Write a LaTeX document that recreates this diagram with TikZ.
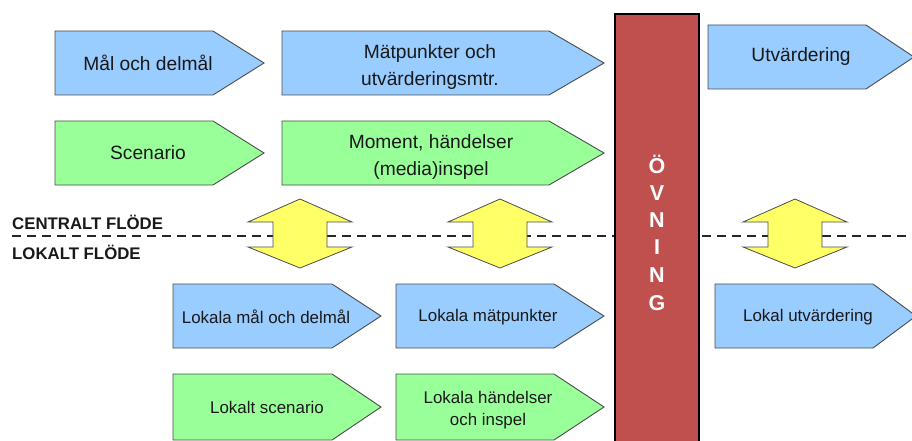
\documentclass[tikz,border=0pt]{standalone}
\usepackage{fontspec}
\setmainfont{Liberation Sans}
\definecolor{pblue}{HTML}{99CCFF}
\definecolor{pgreen}{HTML}{99FF99}
\definecolor{pyellow}{HTML}{FFFF66}
\definecolor{pred}{HTML}{C0504D}
\newcommand\hplate[6]{%
  \filldraw[plate,fill=#6] (#1,#2) -- (#3,#2) -- (#4,{(#2+#5)/2}) -- (#3,#5) -- (#1,#5) -- cycle;}
\newcommand\dblarrow[1]{%
  \filldraw[yarrow] (#1,199) -- ({#1+52},222) -- ({#1+27},222) -- ({#1+27},247) -- ({#1+52},247)
    -- (#1,268) -- ({#1-52},247) -- ({#1-27},247) -- ({#1-27},222) -- ({#1-52},222) -- cycle;}
\begin{document}
\begin{tikzpicture}[x=1pt,y=-1pt,
  plate/.style={draw=black!70, line width=0.9pt},
  yarrow/.style={draw=black!70, line width=0.8pt, fill=pyellow},
  biglbl/.style={font=\fontsize{19.2}{27.5}\selectfont, align=center, inner sep=0pt, text=black!90},
  smalllbl/.style={font=\fontsize{16.9}{21.5}\selectfont, align=center, inner sep=0pt, text=black!90},
  flowlbl/.style={font=\fontsize{16.8}{20}\selectfont\bfseries, anchor=west, inner sep=0pt, text=black!90},
  ovlbl/.style={font=\fontsize{21.5}{24}\selectfont\bfseries, anchor=base, inner sep=0pt, text=white},
  flowline/.style={draw=black!85, line width=1.8pt, dash pattern=on 9pt off 6pt}]
\useasboundingbox (0,0) rectangle (912,441);
% dashed flow line
\coordinate (dl) at (12,236);
\coordinate (dr) at (912,236);
\draw[flowline] (dl) -- (dr);
% top row
\hplate{55}{31}{213}{264}{95}{pblue}
\node[biglbl] (mal) at (148,63) {Mål och delmål};
\hplate{282}{31}{549}{604}{95}{pblue}
\node[biglbl] (matp) at (430,67) {Mätpunkter och\\utvärderingsmtr.};
\hplate{708}{25}{866}{914}{89}{pblue}
\node[biglbl] (utv) at (801,57) {Utvärdering};
% second row
\hplate{55}{121}{213}{264}{185}{pgreen}
\node[biglbl] (scen) at (148,153) {Scenario};
\hplate{282}{121}{549}{604}{185}{pgreen}
\node[biglbl] (mom) at (431,157) {Moment, händelser\\(media)inspel};
% flow labels
\node[flowlbl] (central) at (12,222) {CENTRALT FLÖDE};
\node[flowlbl] (lokalt) at (12,252) {LOKALT FLÖDE};
% double arrows
\dblarrow{300}
\dblarrow{500}
\dblarrow{795}
% lower rows
\hplate{173}{284}{332}{381}{348}{pblue}
\node[smalllbl] (lmal) at (266,317) {Lokala mål och delmål};
\hplate{396}{284}{554}{604}{348}{pblue}
\node[smalllbl] (lmatp) at (488,317) {Lokala mätpunkter};
\hplate{715}{284}{873}{916}{348}{pblue}
\node[smalllbl] (lutv) at (808,317) {Lokal utvärdering};
\hplate{173}{374}{332}{381}{440}{pgreen}
\node[smalllbl] (lscen) at (267,407) {Lokalt scenario};
\hplate{396}{374}{554}{604}{440}{pgreen}
\node[smalllbl] (lhand) at (488,410) {Lokala händelser\\och inspel};
% exercise bar
\filldraw[fill=pred, draw=black, line width=1.4pt] (615,14) rectangle (699,446);
\node[ovlbl] (o1) at (657,173.5) {Ö};
\node[ovlbl] (o2) at (657,200.5) {V};
\node[ovlbl] (o3) at (657,227.5) {N};
\node[ovlbl] (o4) at (657,254.5) {I};
\node[ovlbl] (o5) at (657,282.5) {N};
\node[ovlbl] (o6) at (657,310.5) {G};
\end{tikzpicture}
\end{document}
